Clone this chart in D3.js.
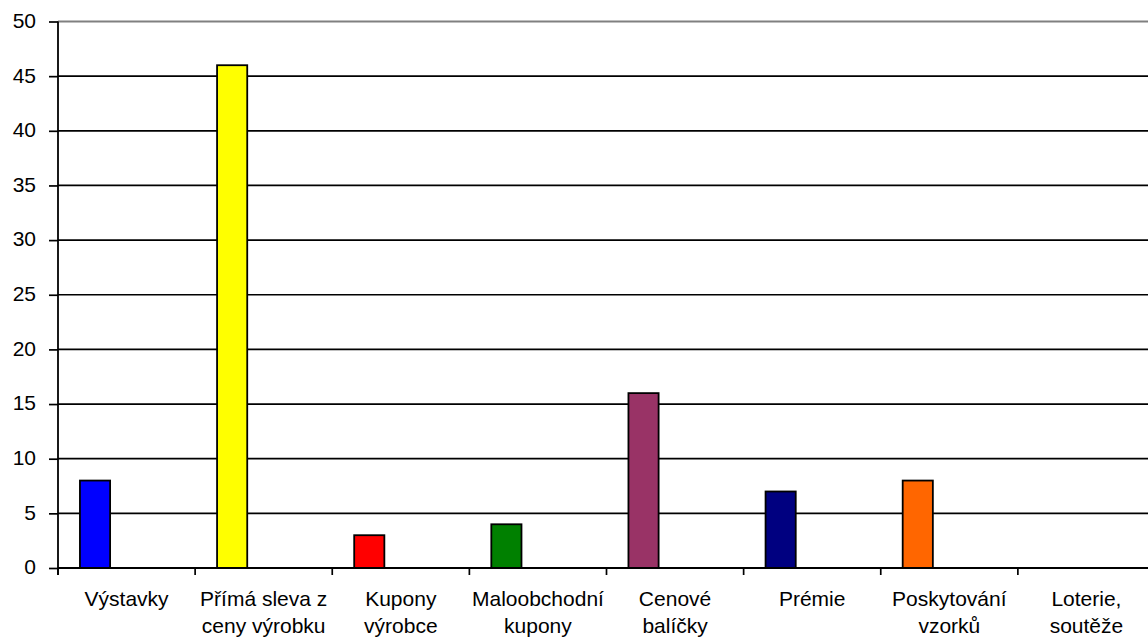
<!DOCTYPE html>
<html>
<head>
<meta charset="utf-8">
<script src="https://cdn.jsdelivr.net/npm/d3@7/dist/d3.min.js"></script>
<style>
  html, body { margin: 0; padding: 0; background: #fff; overflow: hidden; }
  svg { display: block; }
  text { font-family: "Liberation Sans", Arial, sans-serif; fill: #000; }
</style>
</head>
<body>
<svg id="chart" width="1148" height="638"></svg>
<script>
// Categories (each label split into its display lines)
const categories = [
  ["Výstavky"],
  ["Přímá sleva z", "ceny výrobku"],
  ["Kupony", "výrobce"],
  ["Maloobchodní", "kupony"],
  ["Cenové", "balíčky"],
  ["Prémie"],
  ["Poskytování", "vzorků"],
  ["Loterie,", "soutěže"]
];
const values = [8, 46, 3, 4, 16, 7, 8, 0];
const barColors = ["#0000FF", "#FFFF00", "#FF0000", "#008000", "#993366", "#000080", "#FF6600", "#00FFFF"];
const yTicks = [0, 5, 10, 15, 20, 25, 30, 35, 40, 45, 50];

const svg = d3.select("#chart");
const plotLeft = 58, plotRight = 1155, plotTop = 21.5, plotBottom = 568;
const fontSize = 21;

const keys = categories.map((c, i) => i);
const x = d3.scaleBand().domain(keys).range([plotLeft, plotRight]).paddingInner(0).paddingOuter(0);
const y = d3.scaleLinear().domain([0, 50]).range([plotBottom, plotTop]);

// Horizontal gridlines
svg.append("g")
  .selectAll("line")
  .data(yTicks.filter(t => t > 0))
  .join("line")
  .attr("x1", plotLeft).attr("x2", plotRight)
  .attr("y1", d => y(d)).attr("y2", d => y(d))
  .attr("stroke", d => d === 50 ? "#808080" : "#000")
  .attr("stroke-width", d => d === 50 ? 2 : 1.7);

// Bars
const bw = x.bandwidth();
svg.append("g")
  .selectAll("rect")
  .data(values)
  .join("rect")
  .attr("x", (d, i) => x(i) + bw * 0.16)
  .attr("width", bw * 0.22)
  .attr("y", d => y(d))
  .attr("height", d => y(0) - y(d))
  .attr("fill", (d, i) => barColors[i])
  .attr("stroke", "#000")
  .attr("stroke-width", 1.8)
  .style("display", d => d > 0 ? null : "none");

// Y axis
const yAxis = d3.axisLeft(y).tickValues(yTicks).tickSize(9).tickPadding(13).tickFormat(d3.format("d"));
const gy = svg.append("g").attr("transform", `translate(${plotLeft},0)`).call(yAxis);
gy.select(".domain").remove();
gy.selectAll(".tick line").attr("stroke", "#000").attr("stroke-width", 1.7);
gy.selectAll(".tick text").attr("font-size", fontSize).attr("dy", "0.28em")
  .style("font-family", "'Liberation Sans', Arial, sans-serif");
svg.append("line")
  .attr("x1", plotLeft).attr("x2", plotLeft).attr("y1", plotTop).attr("y2", plotBottom + 7)
  .attr("stroke", "#000").attr("stroke-width", 1.8);

// X axis
const xEdges = keys.map(k => x(k)).concat([plotRight]);
svg.append("line")
  .attr("x1", plotLeft).attr("x2", plotRight).attr("y1", plotBottom).attr("y2", plotBottom)
  .attr("stroke", "#000").attr("stroke-width", 1.8);
svg.append("g")
  .selectAll("line")
  .data(xEdges)
  .join("line")
  .attr("x1", d => d).attr("x2", d => d)
  .attr("y1", plotBottom).attr("y2", plotBottom + 7)
  .attr("stroke", "#000").attr("stroke-width", 1.7);

// Category labels
const labels = svg.append("g")
  .selectAll("text")
  .data(categories)
  .join("text")
  .attr("text-anchor", "middle")
  .attr("font-size", fontSize)
  .attr("x", (d, i) => x(i) + bw / 2)
  .attr("y", 606);
labels.selectAll("tspan")
  .data(d => d)
  .join("tspan")
  .attr("x", function () { return d3.select(this.parentNode).attr("x"); })
  .attr("dy", (d, j) => j === 0 ? 0 : 27)
  .text(d => d);
</script>
</body>
</html>
